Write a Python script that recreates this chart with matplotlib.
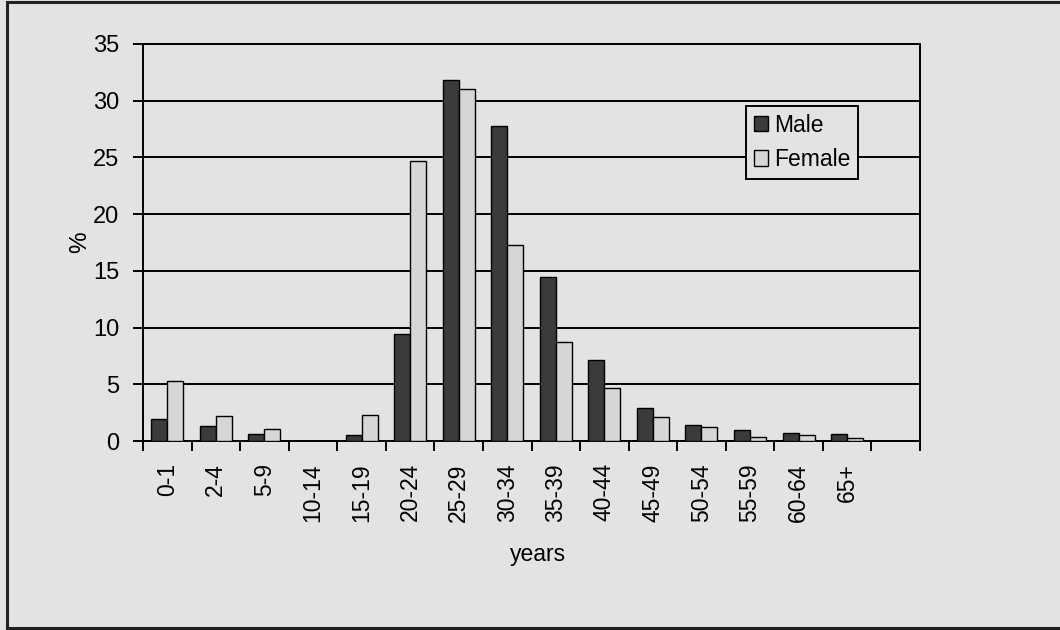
import matplotlib
matplotlib.use("Agg")
import matplotlib.pyplot as plt
from matplotlib.lines import Line2D
from matplotlib.patches import Patch
import numpy as np

age_groups = ["0-1", "2-4", "5-9", "10-14", "15-19", "20-24", "25-29", "30-34",
              "35-39", "40-44", "45-49", "50-54", "55-59", "60-64", "65+"]
male = [1.9, 1.35, 0.65, 0.0, 0.5, 9.4, 31.8, 27.8, 14.5, 7.1, 2.9, 1.45, 0.95, 0.7, 0.6]
female = [5.3, 2.2, 1.05, 0.0, 2.3, 24.7, 31.0, 17.3, 8.75, 4.7, 2.1, 1.2, 0.35, 0.5, 0.25]
y_ticks = [0, 5, 10, 15, 20, 25, 30, 35]

bg = "#e3e3e3"
male_color = "#3b3b3b"
female_color = "#d6d6d6"
fs = 16.5

plt.rcParams["font.family"] = ["Liberation Sans", "DejaVu Sans"]

fig = plt.figure(figsize=(10.6, 6.3), dpi=100, facecolor=bg)
W, H = 1060, 630
x0, x1, ytop, ybot = 143, 920, 44, 441
ax = fig.add_axes([x0 / W, 1 - ybot / H, (x1 - x0) / W, (ybot - ytop) / H])
ax.set_facecolor(bg)

n = 16  # category slots on the axis (last slot left empty)
pos = np.arange(len(age_groups))
bw = 0.33
ax.bar(pos - bw / 2, male, width=bw, color=male_color, edgecolor="black",
       linewidth=1.0, zorder=3, label="Male")
ax.bar(pos + bw / 2, female, width=bw, color=female_color, edgecolor="black",
       linewidth=1.0, zorder=3, label="Female")

ax.set_xlim(-0.5, n - 0.5)
ax.set_ylim(0, 35)
ax.set_yticks(y_ticks)
ax.yaxis.grid(True, color="black", linewidth=1.4, zorder=1)
ax.set_axisbelow(True)

# boundary ticks between categories, labels at category centers
ax.set_xticks(np.arange(-0.5, n, 1.0))
ax.set_xticklabels([])
ax.set_xticks(pos, minor=True)
ax.set_xticklabels(age_groups, minor=True, rotation=90, fontsize=fs)
ax.tick_params(axis="x", which="major", direction="out", length=7, width=1.4)
ax.tick_params(axis="x", which="minor", length=0, pad=16)
ax.tick_params(axis="y", direction="out", length=7, width=1.4, labelsize=fs + 0.5, pad=10)

for s in ax.spines.values():
    s.set_linewidth(1.4)
    s.set_color("black")

ax.set_xlabel("years", fontsize=fs)
ax.set_ylabel("%", fontsize=fs + 1)
ax.xaxis.set_label_coords((538 - x0) / (x1 - x0), -(543 - ybot) / (ybot - ytop))
ax.yaxis.set_label_coords(-(x0 - 91) / (x1 - x0), (ybot - 242) / (ybot - ytop))

handles = [Patch(facecolor=male_color, edgecolor="black", linewidth=1.0),
           Patch(facecolor=female_color, edgecolor="black", linewidth=1.0)]
leg = fig.legend(handles, ["Male", "Female"], loc="upper left",
                 bbox_to_anchor=(746 / W, 1 - 106 / H), fontsize=fs,
                 frameon=True, fancybox=False, framealpha=1, facecolor=bg,
                 edgecolor="black", handlelength=0.65, handleheight=0.65,
                 handletextpad=0.25, borderpad=0.33, labelspacing=0.5,
                 borderaxespad=0)
leg.get_frame().set_linewidth(1.4)

# outer frame of the chart box
for (xa, ya, xb, yb) in [(7, 2, W, 2), (7, 2, 7, 628), (7, 628, W, 628)]:
    fig.add_artist(Line2D([xa / W, xb / W], [1 - ya / H, 1 - yb / H],
                          transform=fig.transFigure, color="#222222", linewidth=2.2))

fig.savefig("out.png", dpi=100, facecolor=bg)
